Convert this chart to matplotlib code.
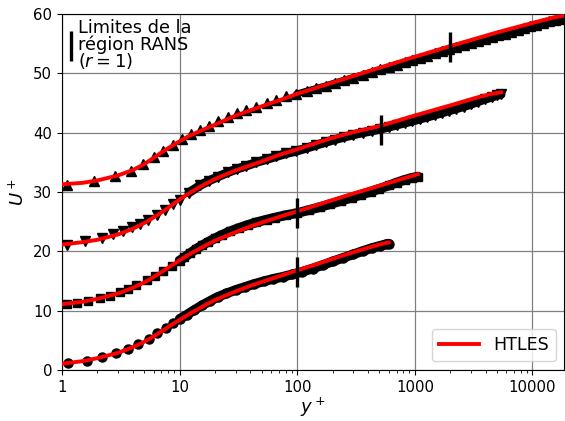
import numpy as np
import matplotlib.pyplot as plt
from matplotlib.lines import Line2D
from matplotlib.ticker import NullFormatter

# DNS profiles (raw U+), shifted by 10 on the plot
yp_c = [1.12, 1.62, 2.17, 2.86, 3.66, 4.45, 5.48, 6.37, 7.6, 8.8, 10.0, 11.5, 13.3, 15.5, 18, 21, 25, 30, 36, 43,
        52, 62, 75, 90, 110, 135, 165, 200, 245, 300, 360, 430, 510, 570, 600]
up_c = [1.13, 1.57, 2.2, 2.8, 3.5, 4.4, 5.2, 6.2, 7.1, 7.9, 8.6, 9.3, 10.1, 10.9, 11.6, 12.3, 12.9, 13.5, 14.0, 14.5,
        14.95, 15.35, 15.7, 16.1, 16.55, 17.1, 17.7, 18.3, 18.9, 19.5, 20.05, 20.55, 20.95, 21.2, 21.3]

yp_s = [1.1, 1.33, 1.67, 2.1, 2.56, 3.1, 3.66, 4.3, 5.25, 6.2, 7.25, 8.55, 10, 11, 12.3, 13.8, 15.5, 17.5, 20, 23,
        27, 32, 38, 45, 55, 65, 80, 100, 125, 155, 190, 235, 290, 350, 420, 500, 600, 700, 820, 950, 1060]
up_s = [1.2, 1.35, 1.7, 2.1, 2.5, 3.1, 3.65, 4.3, 5.1, 5.9, 6.75, 7.6, 8.45, 9.0, 9.7, 10.4, 11.0, 11.6, 12.2, 12.8,
        13.4, 13.95, 14.45, 14.9, 15.35, 15.7, 16.1, 16.45, 16.95, 17.45, 17.95, 18.5, 19.05, 19.55, 20.05, 20.55,
        21.1, 21.6, 22.05, 22.4, 22.6]

yp_d = [1.1, 1.57, 2.17, 2.73, 3.32, 3.9, 4.6, 5.4, 6.37, 7.5, 8.8, 10, 12, 14.9, 17.8, 21.3, 25.8, 30.9, 37, 45,
        55, 66.5, 81, 98.5, 120, 145, 175, 210, 250, 300, 360, 430, 510, 600, 700, 820, 950, 1100, 1280, 1480,
        1700, 1950, 2250, 2600, 3000, 3450, 3950, 4500, 5000, 5400]
up_d = [1.15, 1.7, 2.2, 2.85, 3.5, 4.05, 4.6, 5.35, 6.2, 7.05, 7.9, 8.7, 9.9, 11.1, 11.9, 12.6, 13.3, 13.9, 14.4, 15.0,
        15.5, 16.0, 16.5, 16.9, 17.4, 17.9, 18.4, 18.85, 19.25, 19.65, 20.0, 20.3, 20.6, 20.95, 21.3, 21.65, 21.95,
        22.3, 22.65, 23.0, 23.35, 23.7, 24.05, 24.4, 24.8, 25.25, 25.65, 26.0, 26.3, 26.45]

yp_u = [1.1, 1.88, 2.82, 3.86, 4.9, 6.05, 7.25, 8.8, 10.5, 12.6, 14.9, 17.8, 21.3, 25.8, 30.9, 37, 45, 55, 66.5, 81,
        98.5, 120, 145, 175, 210, 250, 300, 360, 430, 510, 600, 700, 820, 950, 1100, 1280, 1480, 1700, 1950, 2250,
        2600, 3000, 3450, 3950, 4500, 5100, 5800, 6600, 7500, 8500, 9600, 10800, 12200, 13700, 15400, 17300, 19400]
up_u = [1.2, 1.8, 2.7, 3.5, 4.7, 5.9, 6.9, 8.0, 8.9, 9.8, 10.4, 11.1, 12.0, 12.7, 13.3, 13.8, 14.4, 15.0, 15.5, 16.1,
        16.5, 17.0, 17.45, 17.9, 18.4, 18.85, 19.3, 19.75, 20.2, 20.65, 21.05, 21.45, 21.85, 22.25, 22.6, 23.0, 23.35,
        23.7, 24.05, 24.45, 24.75, 25.1, 25.45, 25.8, 26.1, 26.4, 26.7, 27.0, 27.35, 27.65, 27.95, 28.2, 28.5, 28.75,
        28.95, 29.15, 29.3]

# HTLES profiles (raw U+)
yh_c = [1, 1.5, 2, 3, 4, 5, 6, 7, 8, 9, 10, 12, 14, 17, 20, 25, 30, 40, 50, 70, 100, 150, 200, 300, 400, 500, 600]
uh_c = [1.05, 1.5, 2.0, 2.9, 3.85, 4.75, 5.65, 6.5, 7.25, 7.9, 8.45, 9.4, 10.15, 11.1, 11.8, 12.6, 13.25, 14.2,
        14.85, 15.8, 16.8, 17.9, 18.75, 19.85, 20.6, 21.15, 21.5]

yh_s = [1, 1.5, 2, 3, 4, 5, 6, 7, 8, 9, 10, 12, 14, 17, 20, 25, 30, 40, 50, 70, 100, 150, 200, 300, 500, 700, 1000, 1060]
uh_s = [1.1, 1.5, 2.0, 2.9, 3.85, 4.75, 5.65, 6.5, 7.25, 7.9, 8.5, 9.45, 10.2, 11.1, 11.8, 12.6, 13.25, 14.2, 14.85,
        15.8, 16.75, 17.85, 18.65, 19.75, 21.05, 21.95, 22.85, 23.0]

yh_d = [1, 1.5, 2, 3, 4, 5, 6, 7, 8, 10, 12, 15, 20, 30, 50, 70, 100, 150, 200, 300, 500, 1000, 2000, 3540, 4500, 5400]
uh_d = [1.15, 1.55, 1.95, 2.85, 3.8, 4.75, 5.7, 6.55, 7.35, 8.75, 9.75, 10.9, 12.2, 13.65, 15.15, 16.25, 17.2, 18.35,
        19.15, 20.1, 21.1, 22.9, 24.6, 26.05, 26.55, 26.8]

yh_u = [1, 1.5, 2, 3, 4, 5, 6, 7, 8, 10, 12, 15, 20, 30, 50, 70, 100, 200, 500, 1000, 2000, 5000, 10000, 15000, 20000]
uh_u = [1.3, 1.55, 1.95, 2.8, 3.7, 4.7, 5.75, 6.65, 7.4, 8.55, 9.45, 10.3, 11.35, 12.9, 14.45, 15.45, 16.55, 18.45,
        20.95, 22.8, 24.6, 26.9, 28.5, 29.4, 29.85]

offsets = [0, 10, 20, 30]

# limits of the RANS region (r = 1)
bar_yp = [100, 100, 520, 2000]
bar_up = [16.5, 16.5, 20.5, 24.5]

# marker, size, start of the dense band, band width
dns = [(yp_c, up_c, 'o', 6.5, 9.5, 7.0),
       (yp_s, up_s, 's', 6.0, 9.5, 7.0),
       (yp_d, up_d, 'v', 6.5, 11.0, 6.5),
       (yp_u, up_u, '^', 6.5, 95.0, 5.0)]
htles = [(yh_c, uh_c), (yh_s, uh_s), (yh_d, uh_d), (yh_u, uh_u)]

fig = plt.figure(figsize=(5.65, 4.21), dpi=100)
ax = fig.add_axes([0.1097, 0.1211, 0.8893, 0.8456])

for k, (yp, up, m, ms, ystart, lw) in enumerate(dns):
    yp = np.array(yp)
    up = np.array(up) + offsets[k]
    ax.plot(yp, up, ls='none', marker=m, ms=ms, color='k', zorder=2)
    band = yp >= ystart
    ax.plot(yp[band], up[band], color='k', lw=lw, solid_capstyle='round', zorder=2)

for k, (yh, uh) in enumerate(htles):
    ax.plot(yh, np.array(uh) + offsets[k], color='red', lw=2.8, zorder=3)

ax.plot(bar_yp, np.array(bar_up) + np.array(offsets), ls='none', marker='|', ms=21, mew=2.4,
        color='k', zorder=4)

ax.set_xscale('log')
ax.set_xlim(1, 1.87e4)
ax.set_ylim(0, 60)
ax.set_xticks([1, 10, 100, 1000, 10000])
ax.set_xticklabels(['1', '10', '100', '1000', '10000'])
ax.xaxis.set_minor_formatter(NullFormatter())
ax.set_yticks([0, 10, 20, 30, 40, 50, 60])
ax.tick_params(labelsize=10.7)
ax.grid(True, which='major', color='0.5', lw=0.9)
ax.set_axisbelow(True)
ax.set_xlabel('$y^+$', fontsize=13, labelpad=1)
ax.set_ylabel('$U^+$', fontsize=13)

h1 = Line2D([], [], color='red', lw=2.8)
leg1 = ax.legend([h1], ['HTLES'], loc='lower right', fontsize=12.6, handlelength=2.3)
ax.add_artist(leg1)

h2 = Line2D([], [], ls='none', marker='|', ms=21, mew=2.4, color='k')
leg2 = ax.legend([h2], ['Limites de la\nrégion RANS\n($r=1$)'], loc='upper left', frameon=False,
                 fontsize=12.8, handlelength=0.4, handletextpad=0.2, borderaxespad=0.1, borderpad=0.2)
leg2.get_texts()[0].set_linespacing(0.85)

fig.savefig('out.png', dpi=100)
